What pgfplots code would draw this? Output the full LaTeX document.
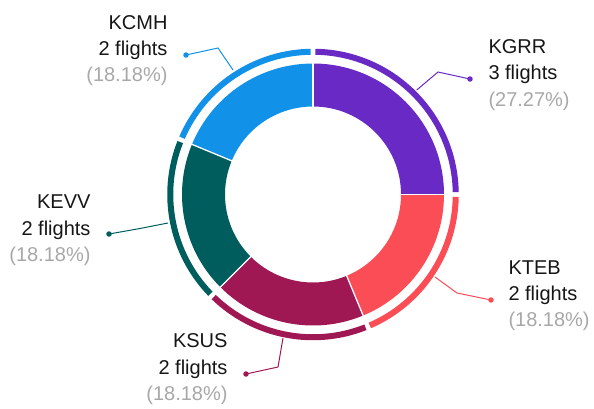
\documentclass[border=0pt]{standalone}
\usepackage{pgfplots}
\usepackage{pgfplotstable}
\pgfplotsset{compat=1.18}
\usepackage{fontspec}
\setmainfont{Liberation Sans}
\definecolor{cGRR}{HTML}{6929C4}
\definecolor{cTEB}{HTML}{FA4D56}
\definecolor{cSUS}{HTML}{9F1853}
\definecolor{cEVV}{HTML}{005D5D}
\definecolor{cCMH}{HTML}{1192E8}
\definecolor{txt}{HTML}{161616}
\definecolor{pct}{HTML}{A8A8A8}
\pgfplotstableread{
name count col
KGRR 3 cGRR
KTEB 2 cTEB
KSUS 2 cSUS
KEVV 2 cEVV
KCMH 2 cCMH
}\flights
\begin{document}
\begin{tikzpicture}
\useasboundingbox (0,0) rectangle (594pt,408pt);
\begin{axis}[x=1pt,y=1pt,xmin=0,xmax=594,ymin=0,ymax=408,hide axis,clip=false,
  at={(0,0)},anchor=south west]
% slice spans as drawn in the reference: proportional to (count+1)
\pgfmathsetmacro\cum{0}
\pgfplotsforeachungrouped \i in {0,...,4}{%
  \pgfplotstablegetelem{\i}{count}\of\flights \let\cnt\pgfplotsretval
  \pgfplotstablegetelem{\i}{col}\of\flights \let\col\pgfplotsretval
  \pgfmathsetmacro\aA{90-360*\cum/16}%
  \pgfmathsetmacro\cum{\cum+\cnt+1}%
  \pgfmathsetmacro\aB{90-360*\cum/16}%
  \pgfmathsetmacro\gA{\aA-0.95}%
  \pgfmathsetmacro\gB{\aB+0.95}%
  \edef\tmp{%
    \noexpand\fill[\col] (axis cs:313,213.5) ++(\aA:131pt) arc[start angle=\aA,end angle=\aB,radius=131pt] -- ++(\aB+180:43pt) arc[start angle=\aB,end angle=\aA,radius=88pt] -- cycle;
    \noexpand\draw[\col,line width=6pt] (axis cs:313,213.5) ++(\gA:142.75pt) arc[start angle=\gA,end angle=\gB,radius=142.75pt];
  }\tmp
}
\pgfmathsetmacro\cum{0}
\pgfplotsforeachungrouped \i in {0,...,4}{%
  \pgfplotstablegetelem{\i}{count}\of\flights \let\cnt\pgfplotsretval
  \pgfmathsetmacro\aA{90-360*\cum/16}%
  \pgfmathsetmacro\cum{\cum+\cnt+1}%
  \edef\tmp{%
    \noexpand\draw[white,line width=1.3pt] (axis cs:313,213.5) ++(\aA:87pt) -- ++(\aA:45pt);
  }\tmp
}
% leader lines
\addplot[cGRR,line width=1pt,mark=*,mark size=2.2pt,mark indices={3}] coordinates {(416.7,318) (438,336) (470,329)};
\addplot[cCMH,line width=1pt,mark=*,mark size=2.2pt,mark indices={3}] coordinates {(233,338) (218,360) (186,353)};
\addplot[cEVV,line width=1pt,mark=*,mark size=2.2pt,mark indices={3}] coordinates {(168,185) (140,179.5) (109,174)};
\addplot[cSUS,line width=1pt,mark=*,mark size=2.2pt,mark indices={3}] coordinates {(283,70) (278,41) (246,34)};
\addplot[cTEB,line width=1pt,mark=*,mark size=2.2pt,mark indices={3}] coordinates {(435,131) (457,115) (491,108)};
% labels
\tikzset{lbl/.style={inner sep=0pt,font=\fontsize{20pt}{24pt}\selectfont,text=txt},
         pc/.style={inner sep=0pt,font=\fontsize{20pt}{24pt}\selectfont,text=pct}}
\node[lbl,anchor=base west] at (axis cs:488.3,354.7) {KGRR};
\node[lbl,anchor=base west] at (axis cs:488.3,328.4) {3 flights};
\node[pc,anchor=base west] at (axis cs:488.3,302) {(27.27\%)};
\node[lbl,anchor=base east] at (axis cs:167.7,378.7) {KCMH};
\node[lbl,anchor=base east] at (axis cs:167.7,352.5) {2 flights};
\node[pc,anchor=base east] at (axis cs:167.7,326.3) {(18.18\%)};
\node[lbl,anchor=base east] at (axis cs:90.7,199.5) {KEVV};
\node[lbl,anchor=base east] at (axis cs:90.7,173) {2 flights};
\node[pc,anchor=base east] at (axis cs:90.7,146.5) {(18.18\%)};
\node[lbl,anchor=base east] at (axis cs:227.7,60.3) {KSUS};
\node[lbl,anchor=base east] at (axis cs:227.7,34) {2 flights};
\node[pc,anchor=base east] at (axis cs:227.7,8) {(18.18\%)};
\node[lbl,anchor=base west] at (axis cs:508.3,134) {KTEB};
\node[lbl,anchor=base west] at (axis cs:508.3,108) {2 flights};
\node[pc,anchor=base west] at (axis cs:508.3,82) {(18.18\%)};
\end{axis}
\end{tikzpicture}
\end{document}
